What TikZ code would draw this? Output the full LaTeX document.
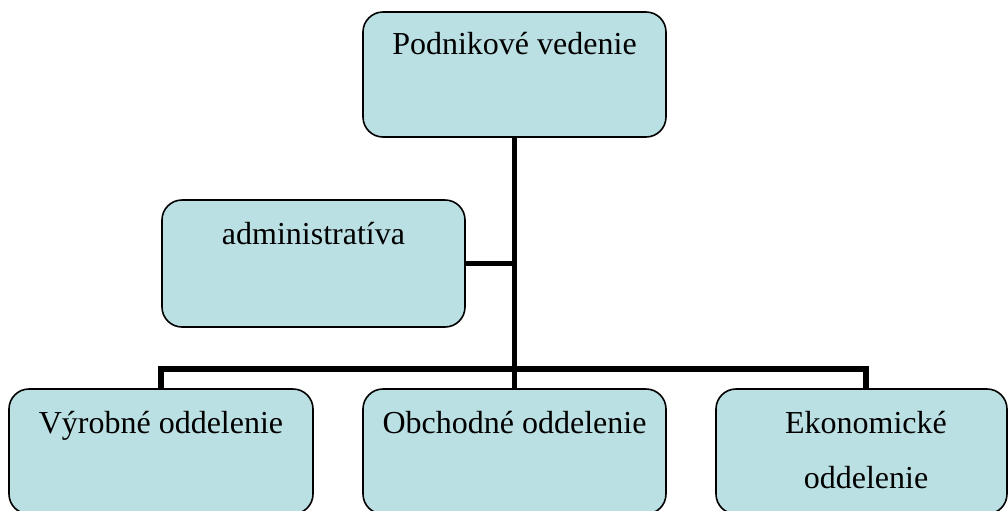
\documentclass[tikz,border=0pt]{standalone}
\usepackage{fontspec}
\setmainfont{Liberation Serif}
\definecolor{boxfill}{RGB}{187,224,227}
\begin{document}
\begin{tikzpicture}[x=0.75pt,y=-0.75pt,
  orgbox/.style={draw=black, line width=1.2pt, fill=boxfill, rounded corners=15pt, inner sep=0pt},
  lbl/.style={font=\fontsize{24}{41.25}\selectfont, inner sep=0pt, anchor=base, align=center},
  link/.style={line width=4.2pt}]
\useasboundingbox (0,0) rectangle (1008,511);
% boxes
\node[orgbox, minimum width=227.25pt, minimum height=93.75pt] (top) at (514.5,74.5) {};
\node[orgbox, minimum width=227.25pt, minimum height=95.25pt] (admin) at (313.5,263.5) {};
\node[orgbox, minimum width=228pt, minimum height=93.75pt] (b1) at (161,451.5) {};
\node[orgbox, minimum width=227.25pt, minimum height=93.75pt] (b2) at (514.5,451.5) {};
\node[orgbox, minimum width=218.25pt, minimum height=93.75pt] (b3) at (861.5,451.5) {};
% connectors
\coordinate (j) at (514.5,369);
\coordinate (c3) at (866,389);
\draw[link] (top.south) -- (b2.north);
\draw[link] (b1.north) -- (b1.north |- j) -- (c3 |- j) -- (c3);
\draw[link] (admin.east) -- (admin.east -| top.south);
% labels
\node[lbl] (t0) at ([yshift=-32.25pt]top.north) {Podnikové vedenie};
\node[lbl] (t1) at ([yshift=-33.75pt]admin.north) {administratíva};
\node[lbl] (t2) at ([yshift=-33.75pt]b1.north) {Výrobné oddelenie};
\node[lbl] (t3) at ([yshift=-33.75pt]b2.north) {Obchodné oddelenie};
\node[lbl] (t4) at (866,488) {Ekonomické\\oddelenie};
\end{tikzpicture}
\end{document}
